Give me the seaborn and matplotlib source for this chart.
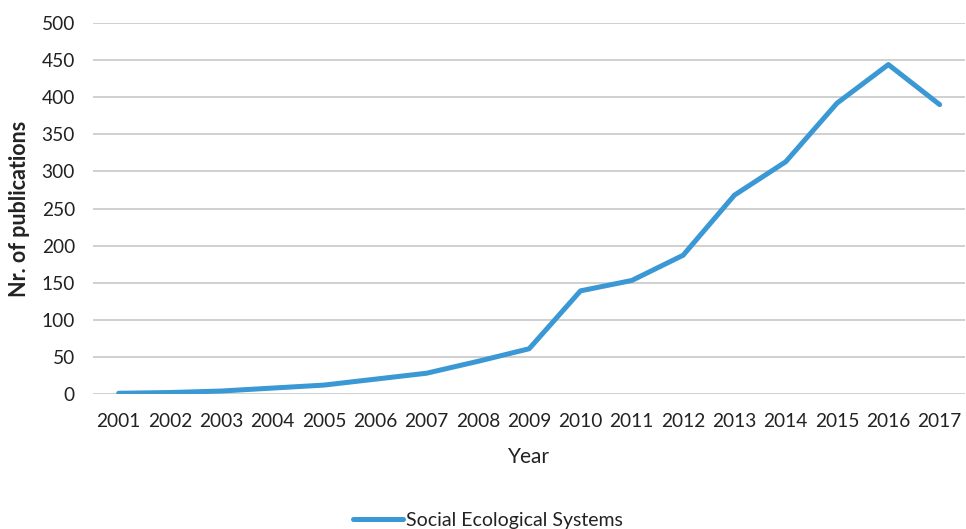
import matplotlib
matplotlib.use("Agg")
import matplotlib.pyplot as plt
import pandas as pd
import seaborn as sns

# data
years = [2001, 2002, 2003, 2004, 2005, 2006, 2007, 2008, 2009,
         2010, 2011, 2012, 2013, 2014, 2015, 2016, 2017]
publications = [1, 2, 4, 8, 12, 20, 28, 44, 61,
                139, 153, 187, 268, 313, 392, 444, 390]
series_name = "Social Ecological Systems"
y_ticks = [0, 50, 100, 150, 200, 250, 300, 350, 400, 450, 500]

df = pd.DataFrame({"Year": years, "Nr. of publications": publications})

sns.set_theme(style="white")
plt.rcParams['font.family'] = ['Lato', 'DejaVu Sans']

fig = plt.figure(figsize=(9.66, 5.29), dpi=100)
ax = fig.add_axes([0.0963, 0.2552, 0.903, 0.7013])

sns.lineplot(data=df, x="Year", y="Nr. of publications", color="#3A98D4",
             linewidth=3.6, label=series_name, ax=ax, legend=False)

ax.set_xlim(2000.5, 2017.5)
ax.set_ylim(0, 500)
ax.set_xticks(years)
ax.set_xticklabels([str(y) for y in years])
ax.set_yticks(y_ticks)
ax.tick_params(axis='both', length=0, labelsize=13.8, colors="#222222")
ax.tick_params(axis='y', pad=13)
ax.tick_params(axis='x', pad=14)
ax.yaxis.grid(True, color="#D0D0D0", linewidth=1.4)
ax.set_axisbelow(True)
for s in ax.spines.values():
    s.set_visible(False)

ax.set_xlabel("Year", fontsize=15, color="#222222", labelpad=12)
ax.set_ylabel("Nr. of publications", fontsize=15.5, fontweight='bold',
              color="#222222", labelpad=8)

handles, labels = ax.get_legend_handles_labels()
fig.legend(handles, labels, loc="center", bbox_to_anchor=(0.505, 0.017),
           frameon=False, fontsize=14, handlelength=2.6, handletextpad=0.15,
           labelcolor="#222222")

fig.savefig("out.png", dpi=100)
